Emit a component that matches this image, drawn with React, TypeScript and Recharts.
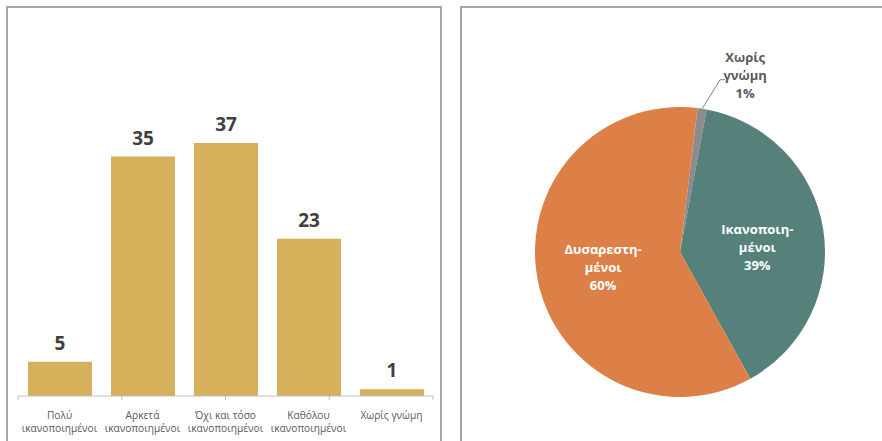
import React from 'react';
import { BarChart, Bar, XAxis, YAxis, LabelList, PieChart, Pie, Cell } from 'recharts';

const barCategories = [
  'Πολύ ικανοποιημένοι',
  'Αρκετά ικανοποιημένοι',
  'Όχι και τόσο ικανοποιημένοι',
  'Καθόλου ικανοποιημένοι',
  'Χωρίς γνώμη',
];
const barTickLines = [
  ['Πολύ', 'ικανοποιημένοι'],
  ['Αρκετά', 'ικανοποιημένοι'],
  ['Όχι και τόσο', 'ικανοποιημένοι'],
  ['Καθόλου', 'ικανοποιημένοι'],
  ['Χωρίς γνώμη'],
];
const barValues = [5, 35, 37, 23, 1];
const boundaryTicks = [0, 1, 2, 3, 4, 5];

const pieNames = ['Χωρίς γνώμη', 'Ικανοποιημένοι', 'Δυσαρεστημένοι'];
const pieLabelLines = [
  ['Χωρίς', 'γνώμη'],
  ['Ικανοποιη-', 'μένοι'],
  ['Δυσαρεστη-', 'μένοι'],
];
const pieValues = [1, 39, 60];
const pieColors = ['#8C8C8C', '#55817A', '#DD8047'];

const FONT = '"Open Sans", "Noto Sans", sans-serif';
const BAR_COLOR = '#D7B05C';
const BORDER = '#A6A6A6';

const barData = barCategories.map((name, i) => ({ name, value: barValues[i] }));
const pieData = pieNames.map((name, i) => ({ name, value: pieValues[i] }));

const CatTick = (props: any) => {
  const { x, y, payload } = props;
  const idx = barCategories.indexOf(payload.value);
  const lines = barTickLines[idx] || [payload.value];
  return (
    <text x={x} y={y + 14} textAnchor="middle" fill="#595959" fontFamily={FONT} fontSize={10.2}>
      {lines.map((l, i) => (
        <tspan key={i} x={x} dy={i === 0 ? 0 : 13}>
          {l}
        </tspan>
      ))}
    </text>
  );
};

const RADIAN = Math.PI / 180;

const renderPieLabel = (props: any) => {
  const { cx, cy, midAngle, outerRadius, index } = props;
  const lines = [...pieLabelLines[index], `${pieValues[index]}%`];
  const cos = Math.cos(-midAngle * RADIAN);
  const sin = Math.sin(-midAngle * RADIAN);
  if (index === 0) {
    const ax = cx + outerRadius * cos;
    const ay = cy + outerRadius * sin;
    const ex = ax + 18;
    const ey = ay - 29;
    const tx = ex + 25;
    return (
      <g key={`lbl-${index}`}>
        <polyline
          points={`${ax},${ay} ${ex},${ey} ${ex + 5},${ey}`}
          fill="none"
          stroke="#7F7F7F"
          strokeWidth={1}
        />
        <text x={tx} y={ey - 17.4} textAnchor="middle" fill="#595959" fontFamily={FONT} fontSize={13} fontWeight={700}>
          {lines.map((l, i) => (
            <tspan key={i} x={tx} dy={i === 0 ? 0 : 18}>
              {l}
            </tspan>
          ))}
        </text>
      </g>
    );
  }
  const r = outerRadius * 0.54;
  const x = cx + r * cos;
  const y = cy + r * sin + (index === 1 ? 8 : 0);
  return (
    <text
      key={`lbl-${index}`}
      x={x}
      y={y - 18 + 4.6}
      textAnchor="middle"
      fill="#FFFFFF"
      fontFamily={FONT}
      fontSize={13}
      fontWeight={700}
    >
      {lines.map((l, i) => (
        <tspan key={i} x={x} dy={i === 0 ? 0 : 18}>
          {l}
        </tspan>
      ))}
    </text>
  );
};

export default function App() {
  return (
    <div style={{ position: 'absolute', left: 0, top: 0, width: 882, height: 441, background: '#fff', overflow: 'hidden' }}>
      <div
        style={{
          position: 'absolute',
          left: 6,
          top: 6,
          width: 432,
          height: 450,
          borderLeft: `2px solid ${BORDER}`,
          borderTop: `2px solid ${BORDER}`,
          borderRight: `2px solid ${BORDER}`,
        }}
      />
      <div
        style={{
          position: 'absolute',
          left: 460,
          top: 6,
          width: 440,
          height: 450,
          borderLeft: `2px solid ${BORDER}`,
          borderTop: `2px solid ${BORDER}`,
        }}
      />
      <div style={{ position: 'absolute', left: 0, top: 0 }}>
        <BarChart width={440} height={441} data={barData} margin={{ top: 54, right: 7, bottom: 4, left: 18 }} barSize={64}>
          <YAxis hide domain={[0, 50]} />
          <XAxis
            xAxisId="b"
            dataKey="name"
            axisLine={false}
            tickLine={false}
            interval={0}
            height={40}
            tick={<CatTick />}
          />
          <XAxis
            xAxisId="a"
            type="number"
            domain={[0, 5]}
            ticks={boundaryTicks}
            allowDataOverflow
            height={1}
            tickSize={4}
            tickLine={{ stroke: '#BFBFBF' }}
            axisLine={{ stroke: '#BFBFBF' }}
            tickFormatter={() => ''}
          />
          <Bar dataKey="value" xAxisId="b" fill={BAR_COLOR} isAnimationActive={false}>
            <LabelList
              dataKey="value"
              position="top"
              offset={12}
              fill="#404040"
              fontFamily={FONT}
              fontSize={19}
              fontWeight={700}
            />
          </Bar>
        </BarChart>
      </div>
      <div style={{ position: 'absolute', left: 462, top: 0 }}>
        <PieChart width={420} height={441} margin={{ top: 0, right: 0, bottom: 0, left: 0 }}>
          <Pie
            data={pieData}
            dataKey="value"
            nameKey="name"
            cx={218}
            cy={252}
            outerRadius={145}
            startAngle={83}
            endAngle={-277}
            stroke="none"
            labelLine={false}
            label={renderPieLabel}
            isAnimationActive={false}
          >
            {pieData.map((d, i) => (
              <Cell key={d.name} fill={pieColors[i]} />
            ))}
          </Pie>
        </PieChart>
      </div>
    </div>
  );
}
